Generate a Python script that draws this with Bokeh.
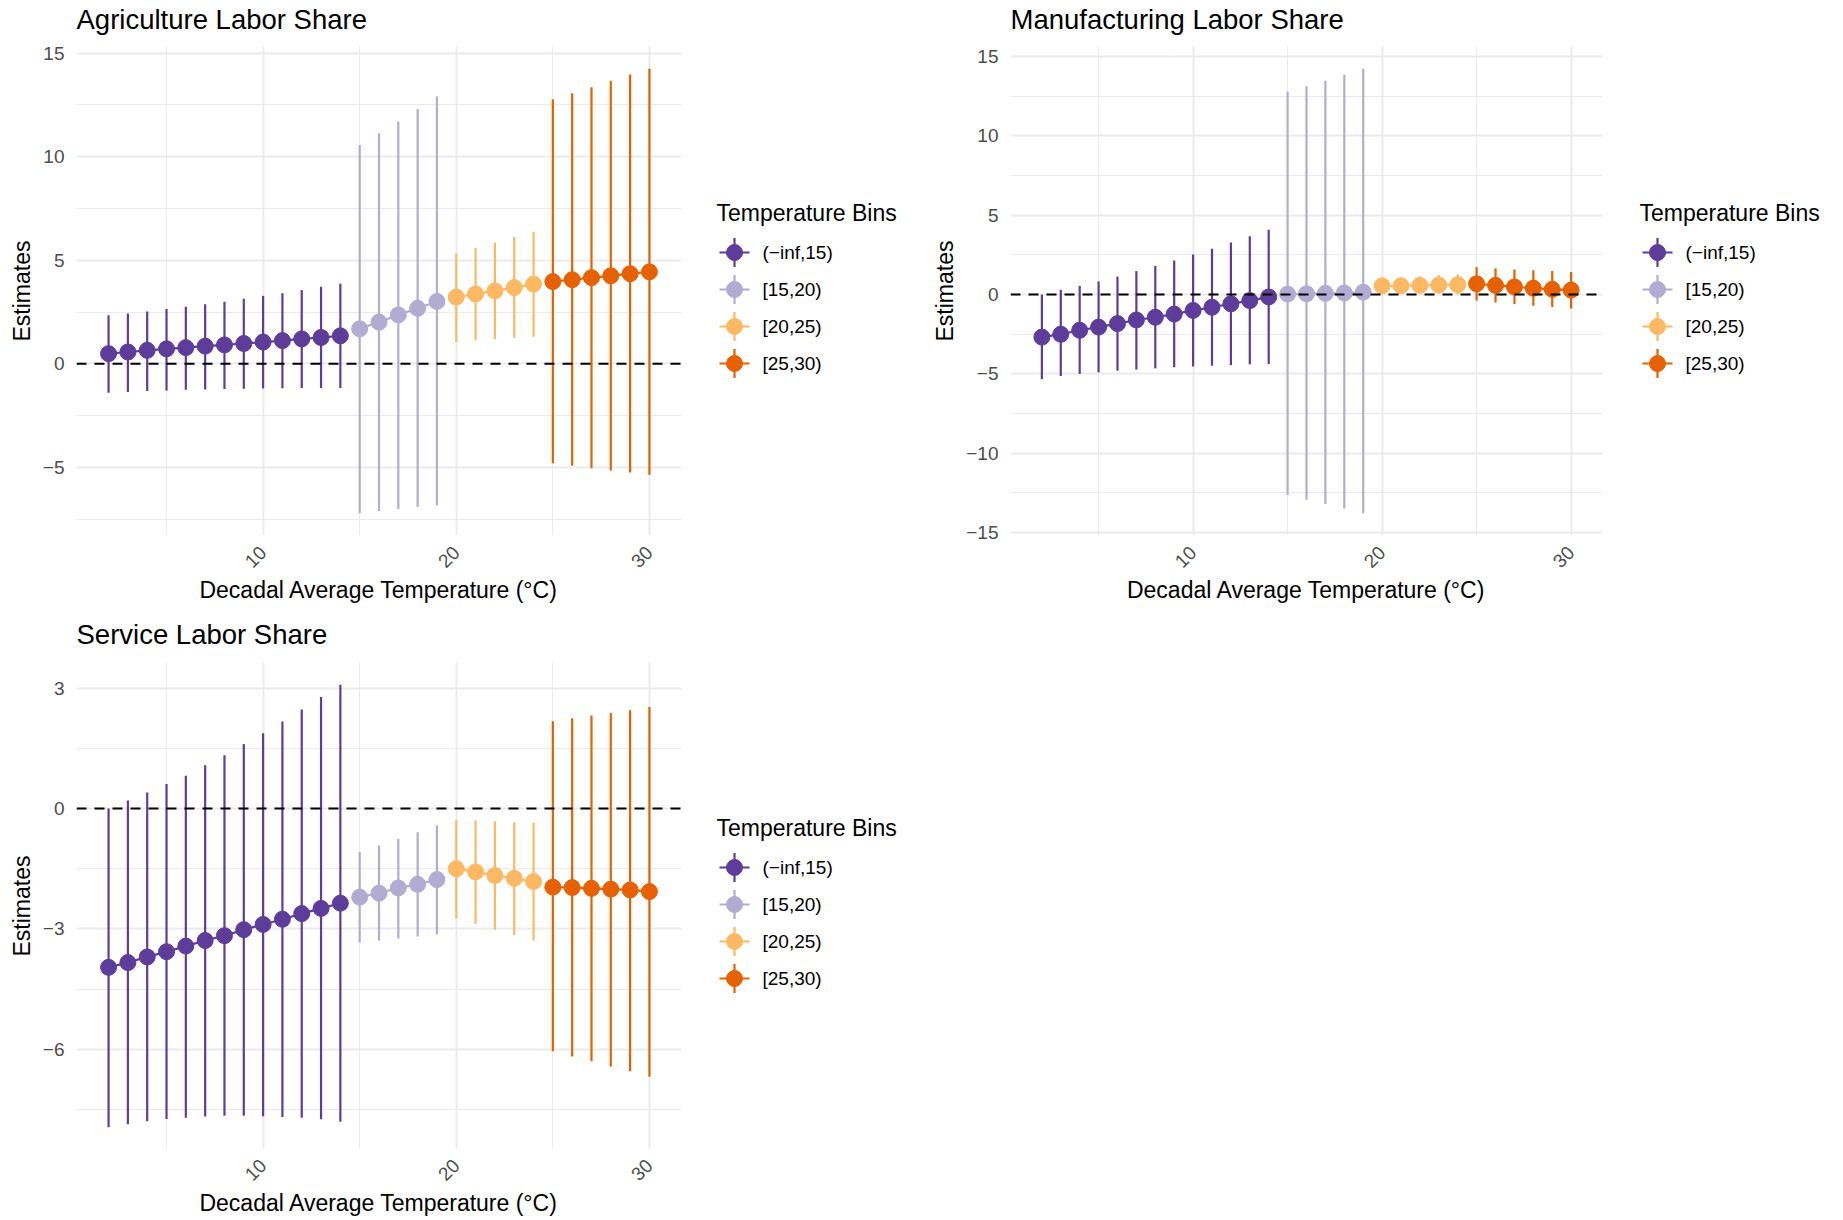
import math
import numpy as np
from bokeh.plotting import figure
from bokeh.models import Range1d, FixedTicker, Span, ColumnDataSource, Title
from bokeh.layouts import row, column
from bokeh.core.properties import value
from bokeh.embed import file_html
from bokeh.resources import INLINE

FONT = "Liberation Sans"

# ---------------- data ----------------
temps = [2, 3, 4, 5, 6, 7, 8, 9, 10, 11, 12, 13, 14,
         15, 16, 17, 18, 19,
         20, 21, 22, 23, 24,
         25, 26, 27, 28, 29, 30]

bin_labels = ["(\u2212inf,15)", "[15,20)", "[20,25)", "[25,30)"]
bin_colors = ["#5E3C99", "#B2ABD2", "#FDB863", "#E66101"]
bin_lower = [-np.inf, 15, 20, 25]

agr_est = [0.49, 0.57, 0.65, 0.72, 0.78, 0.85, 0.91, 0.98, 1.05, 1.12, 1.20, 1.27, 1.35,
           1.69, 2.01, 2.36, 2.68, 3.01,
           3.22, 3.37, 3.52, 3.68, 3.85,
           3.97, 4.06, 4.16, 4.25, 4.35, 4.44]
agr_hi = [2.34, 2.43, 2.53, 2.64, 2.76, 2.87, 3.00, 3.14, 3.28, 3.41, 3.56, 3.72, 3.87,
          10.57, 11.13, 11.70, 12.30, 12.91,
          5.33, 5.59, 5.84, 6.13, 6.38,
          12.78, 13.07, 13.35, 13.66, 13.97, 14.25]
agr_lo = [-1.40, -1.36, -1.32, -1.29, -1.26, -1.24, -1.22, -1.20, -1.19, -1.18, -1.17, -1.17, -1.17,
          -7.22, -7.11, -7.01, -6.92, -6.84,
          1.05, 1.13, 1.19, 1.25, 1.30,
          -4.81, -4.92, -5.04, -5.15, -5.25, -5.36]

man_est = [-2.68, -2.50, -2.25, -2.05, -1.83, -1.60, -1.43, -1.23, -1.00, -0.80, -0.58, -0.38, -0.15,
           0.03, 0.05, 0.08, 0.10, 0.15,
           0.55, 0.56, 0.58, 0.60, 0.62,
           0.68, 0.58, 0.48, 0.40, 0.33, 0.28]
man_hi = [0.00, 0.30, 0.55, 0.83, 1.13, 1.48, 1.80, 2.15, 2.53, 2.88, 3.28, 3.68, 4.08,
          12.80, 13.13, 13.48, 13.85, 14.23,
          0.98, 1.05, 1.15, 1.23, 1.28,
          1.73, 1.65, 1.58, 1.53, 1.48, 1.43]
man_lo = [-5.33, -5.13, -5.00, -4.90, -4.80, -4.73, -4.65, -4.58, -4.53, -4.48, -4.45, -4.40, -4.38,
          -12.63, -12.93, -13.20, -13.48, -13.78,
          0.18, 0.13, 0.10, 0.05, 0.00,
          -0.38, -0.50, -0.60, -0.70, -0.78, -0.88]

srv_est = [-3.96, -3.84, -3.70, -3.57, -3.43, -3.29, -3.17, -3.02, -2.89, -2.76, -2.62, -2.49, -2.36,
           -2.21, -2.11, -1.98, -1.89, -1.77,
           -1.50, -1.58, -1.67, -1.74, -1.82,
           -1.96, -1.97, -1.99, -2.01, -2.03, -2.07]
srv_hi = [0.00, 0.20, 0.40, 0.61, 0.82, 1.08, 1.33, 1.61, 1.88, 2.17, 2.47, 2.78, 3.09,
          -1.08, -0.92, -0.76, -0.59, -0.42,
          -0.29, -0.30, -0.32, -0.34, -0.35,
          2.18, 2.25, 2.32, 2.38, 2.45, 2.53]
srv_lo = [-7.95, -7.87, -7.80, -7.74, -7.71, -7.68, -7.66, -7.66, -7.67, -7.69, -7.71, -7.75, -7.81,
          -3.34, -3.29, -3.24, -3.19, -3.14,
          -2.74, -2.88, -3.02, -3.16, -3.29,
          -6.05, -6.18, -6.30, -6.43, -6.55, -6.69]

x_major = [10, 20, 30]
x_minor = [5, 15, 25]
agr_major = [-5, 0, 5, 10, 15]
agr_minor = [-7.5, -2.5, 2.5, 7.5, 12.5]
man_major = [-15, -10, -5, 0, 5, 10, 15]
man_minor = [-12.5, -7.5, -2.5, 2.5, 7.5, 12.5]
srv_major = [-6, -3, 0, 3]
srv_minor = [-7.5, -4.5, -1.5, 1.5]

GRID = "#EBEBEB"
TICK_COL = "#4D4D4D"


def fmt(v):
    return f"{v:g}".replace("-", "\u2212")


def bin_index(t):
    idx = 0
    for i, b in enumerate(bin_lower):
        if t >= b:
            idx = i
    return idx


def make_panel(title, est, lo, hi, ymaj, ymin, width, height, mbl, mbr, mbt, mbb,
               title_gap, xlab_standoff):
    lo_all = min(lo)
    hi_all = max(hi)
    pad = 0.05 * (hi_all - lo_all)
    p = figure(width=width, height=height,
               x_range=Range1d(0.34, 31.66),
               y_range=Range1d(lo_all - pad, hi_all + pad),
               output_backend="svg", toolbar_location=None,
               min_border_left=mbl, min_border_right=mbr,
               min_border_top=mbt, min_border_bottom=mbb,
               title=None)
    p.outline_line_color = None
    p.background_fill_color = "white"
    p.border_fill_color = "white"

    # spacer between frame and title, then the title itself
    p.add_layout(Title(text=" ", text_font_size="1px", standoff=title_gap,
                       text_color="white"), "above")
    p.add_layout(Title(text=title, text_font=FONT, text_font_size="27.5px",
                       text_font_style="normal", text_color="black",
                       align="left", offset=0, standoff=0), "above")

    p.xaxis.ticker = FixedTicker(ticks=x_major, minor_ticks=x_minor)
    p.yaxis.ticker = FixedTicker(ticks=ymaj, minor_ticks=ymin)
    p.xaxis.major_label_overrides = {v: fmt(v) for v in x_major}
    p.yaxis.major_label_overrides = {v: fmt(v) for v in ymaj}
    p.xaxis.major_label_orientation = math.pi / 4

    for ax in (p.xaxis, p.yaxis):
        ax.axis_line_color = None
        ax.major_tick_line_color = None
        ax.minor_tick_line_color = None
        ax.major_tick_out = 0
        ax.major_tick_in = 0
        ax.minor_tick_out = 0
        ax.minor_tick_in = 0
        ax.major_label_text_font = FONT
        ax.major_label_text_font_size = "19px"
        ax.major_label_text_color = TICK_COL
        ax.axis_label_text_font = FONT
        ax.axis_label_text_font_size = "23px"
        ax.axis_label_text_font_style = "normal"
        ax.axis_label_text_color = "black"
    p.xaxis.axis_label = "Decadal Average Temperature (\u00B0C)"
    p.yaxis.axis_label = "Estimates"
    p.xaxis.major_label_standoff = xlab_standoff
    p.xaxis.axis_label_standoff = 0
    p.yaxis.major_label_standoff = 12
    p.yaxis.axis_label_standoff = 5

    for g in (p.xgrid, p.ygrid):
        g.grid_line_color = GRID
        g.grid_line_width = 2
        g.minor_grid_line_color = GRID
        g.minor_grid_line_width = 1.1

    bins = [bin_index(t) for t in temps]
    for b, col in enumerate(bin_colors):
        ids = [i for i, bb in enumerate(bins) if bb == b]
        src = ColumnDataSource(dict(
            x=[temps[i] for i in ids],
            est=[est[i] for i in ids],
            lo=[lo[i] for i in ids],
            hi=[hi[i] for i in ids],
        ))
        p.segment(x0="x", x1="x", y0="lo", y1="hi", source=src,
                  line_color=col, line_width=2.2)
        p.line(x="x", y="est", source=src, line_color=col, line_width=2.2)
        p.scatter(x="x", y="est", source=src, size=16,
                  fill_color=col, line_color=col)

    p.add_layout(Span(location=0, dimension="width", line_color="black",
                      line_width=2, line_dash="10 8"))
    return p


def make_legend(width, height, mbt, mbb, title_x):
    frame_h = height - mbt - mbb
    lg = figure(width=width, height=height,
                x_range=Range1d(0, width), y_range=Range1d(frame_h, 0),
                output_backend="svg", toolbar_location=None,
                min_border_left=0, min_border_right=0,
                min_border_top=mbt, min_border_bottom=mbb,
                x_axis_type=None, y_axis_type=None)
    lg.outline_line_color = None
    lg.xgrid.visible = False
    lg.ygrid.visible = False
    center = frame_h / 2
    ys = [center - 38.5 + 37 * i for i in range(len(bin_labels))]
    kx = title_x + 18
    src = ColumnDataSource(dict(
        y=ys,
        ytop=[y - 14.5 for y in ys],
        ybot=[y + 14.5 for y in ys],
        color=bin_colors,
        label=bin_labels,
    ))
    lg.segment(x0=kx - 15, x1=kx + 15, y0="y", y1="y", source=src,
               line_color="color", line_width=2.2)
    lg.segment(x0=kx, x1=kx, y0="ytop", y1="ybot", source=src,
               line_color="color", line_width=2.2)
    lg.scatter(x=kx, y="y", source=src, size=16,
               fill_color="color", line_color="color")
    lg.text(x=title_x + 46, y="y", text="label", source=src,
            text_baseline="middle", text_align="left",
            text_font=value(FONT), text_font_size="19px", text_color="black")
    lg.text(x=[title_x], y=[center - 78], text=["Temperature Bins"],
            text_baseline="middle", text_align="left",
            text_font=value(FONT), text_font_size="23px", text_color="black")
    return lg


H1 = 608
H2 = 610
p1 = make_panel("Agriculture Labor Share", agr_est, agr_lo, agr_hi, agr_major, agr_minor,
                700, H1, 76, 19, 46, 73, 9, 14)
p2 = make_panel("Manufacturing Labor Share", man_est, man_lo, man_hi, man_major, man_minor,
                692, H1, 79, 19, 46, 73, 9, 14)
p3 = make_panel("Service Labor Share", srv_est, srv_lo, srv_hi, srv_major, srv_minor,
                700, H2, 76, 19, 54, 69, 10, 13)

l1 = make_legend(229, H1, 46, 73, 16)
l2 = make_legend(214, H1, 46, 73, 18)
l3 = make_legend(229, H2, 54, 69, 16)

layout = column(row(p1, l1, p2, l2), row(p3, l3))

open("out.html", "w").write(file_html(layout, INLINE))
